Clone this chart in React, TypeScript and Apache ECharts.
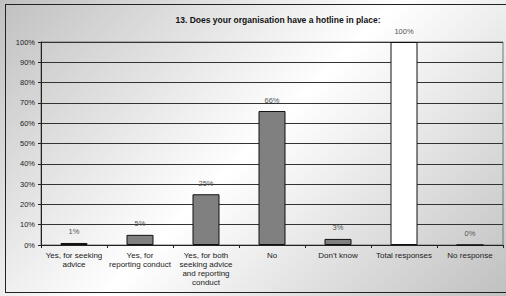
import React, { useEffect, useRef } from "react";
import * as echarts from "echarts";

const categories = [
  "Yes, for seeking\nadvice",
  "Yes, for\nreporting conduct",
  "Yes, for both\nseeking advice\nand reporting\nconduct",
  "No",
  "Don't know",
  "Total responses",
  "No response",
];
const values = [1, 5, 25, 66, 3, 100, 0];
const barColors = ["#808080", "#808080", "#808080", "#808080", "#808080", "#ffffff", "#808080"];
const titleText = "13. Does your organisation have a hotline in place:";

export default function App() {
  const ref = useRef<HTMLDivElement>(null);
  useEffect(() => {
    if (!ref.current) return;
    const chart = echarts.init(ref.current, null, { renderer: "svg" });
    const font = "Liberation Sans, Arial, sans-serif";
    chart.setOption({
      animation: false,
      title: {
        text: titleText,
        left: 273,
        textAlign: "center",
        top: 10,
        textStyle: { fontFamily: font, fontSize: 8.5, fontWeight: "bold", color: "#111" },
      },
      grid: {
        left: 41,
        top: 42,
        right: 3,
        bottom: 51,
        show: true,
        borderColor: "#777",
        borderWidth: 1,
        backgroundColor: "transparent",
      },
      xAxis: {
        type: "category",
        data: categories,
        axisLine: { lineStyle: { color: "#222", width: 1 } },
        axisTick: { show: true, length: 3, lineStyle: { color: "#222" } },
        axisLabel: {
          interval: 0,
          fontFamily: font,
          fontSize: 8,
          color: "#222",
          lineHeight: 9,
          margin: 6,
        },
      },
      yAxis: {
        type: "value",
        min: 0,
        max: 100,
        interval: 10,
        axisLine: { show: true, lineStyle: { color: "#222", width: 1 } },
        axisTick: { show: true, length: 3, lineStyle: { color: "#222" } },
        axisLabel: {
          formatter: "{value}%",
          fontFamily: font,
          fontSize: 7.5,
          color: "#222",
          margin: 6,
        },
        splitLine: { lineStyle: { color: "#333", width: 1 } },
      },
      series: [
        {
          type: "bar",
          data: values.map((v, i) => ({
            value: v,
            itemStyle: { color: barColors[i] },
          })),
          barWidth: 27,
          itemStyle: { borderColor: "#111", borderWidth: 1 },
          label: {
            show: true,
            position: "top",
            distance: 7,
            formatter: "{c}%",
            fontFamily: font,
            fontSize: 7.5,
            color: "#555",
          },
        },
      ],
    });
    return () => chart.dispose();
  }, []);
  return (
    <div
      style={{
        position: "absolute",
        left: 0,
        top: 0,
        width: 506,
        height: 296,
        overflow: "hidden",
        background: "linear-gradient(135deg, #c0c0c0 0%, #ffffff 50%, #c0c0c0 100%)",
      }}
    >
      <div
        style={{
          position: "absolute",
          left: 5,
          top: 4,
          width: 520,
          height: 287,
          border: "1.5px solid #222",
        }}
      />
      <div ref={ref} style={{ position: "absolute", left: 0, top: 0, width: 506, height: 296 }} />
    </div>
  );
}
